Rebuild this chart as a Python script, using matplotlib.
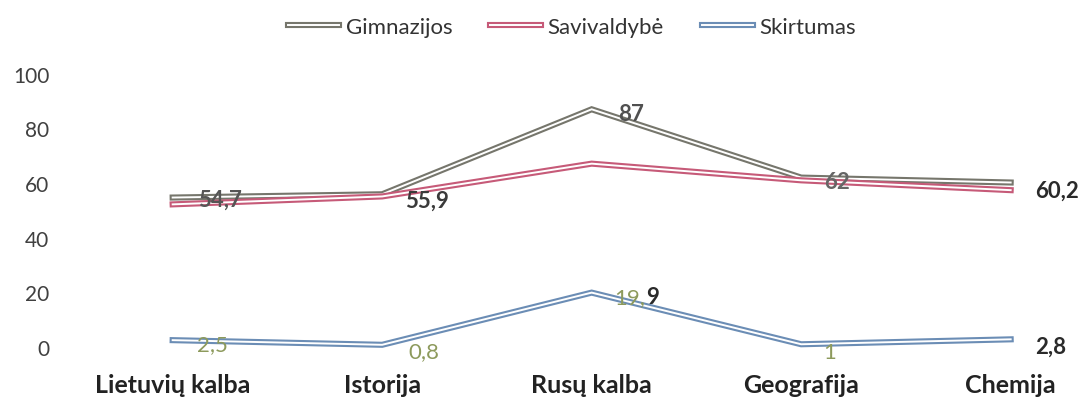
import matplotlib
matplotlib.use("Agg")
import matplotlib.pyplot as plt
import matplotlib.patheffects as pe

categories = ["Lietuvių kalba", "Istorija", "Rusų kalba", "Geografija", "Chemija"]
gimnazijos = [54.7, 55.9, 87, 62, 60.2]
savivaldybe = [52.2, 55.1, 67.1, 61, 57.4]
skirtumas = [2.5, 0.8, 19.9, 1, 2.8]
gim_labels = ["54,7", "55,9", "87", "62", "60,2"]
skirt_labels = ["2,5", "0,8", "19,9", "1", "2,8"]
yticks = [0, 20, 40, 60, 80, 100]

plt.rcParams['font.family'] = ['Lato', 'DejaVu Sans']

fig = plt.figure(figsize=(10.84, 4.02), dpi=100)
ax = fig.add_axes([70/1084, 0.080, 1 - 70/1084, 0.768])

x = list(range(len(categories)))
series = [("Gimnazijos", gimnazijos, "#76766c"),
          ("Savivaldybė", savivaldybe, "#c65a78"),
          ("Skirtumas", skirtumas, "#6b8db5")]
for name, vals, col in series:
    ax.plot(x, vals, color="white", lw=1.4, label=name, solid_joinstyle="miter",
            path_effects=[pe.Stroke(linewidth=4.4, foreground=col), pe.Normal()])

ax.set_xlim(-0.49, 4.35)
ax.set_ylim(-8, 105)
ax.set_yticks(yticks)
ax.set_yticklabels([str(v) for v in yticks], fontsize=15, color="#404040")
ax.set_xticks(x)
ax.set_xticklabels(categories, fontsize=18, fontweight="bold", color="#222222")
ax.tick_params(axis="both", length=0)
ax.tick_params(axis="y", pad=15)
ax.tick_params(axis="x", pad=3)
for s in ax.spines.values():
    s.set_visible(False)

dark = "#3a3a3a"
olive = "#8d9a5c"
gim_off = [(47, -2), (45, -6), (39, -4), (36, -4), (46, -8)]
gim_col = ["#555555", dark, "#505050", "#666666", "#2a2a2a"]
for i, (lab, v) in enumerate(zip(gim_labels, gimnazijos)):
    ax.annotate(lab, (i, v), xytext=gim_off[i], textcoords="offset pixels",
                ha="center", va="center", fontsize=16, color=gim_col[i],
                fontweight="bold")

sk_off = [(40, -4), (42, -6), (48, -4), (28, -8), (40, -7)]
sk_col = [olive, olive, None, olive, "#2a2a2a"]
for i, (lab, v) in enumerate(zip(skirt_labels, skirtumas)):
    if sk_col[i] is None:
        ax.annotate("19,", (i, v), xytext=(sk_off[i][0] + 5, sk_off[i][1]),
                    textcoords="offset pixels", ha="right", va="center",
                    fontsize=16, color=olive)
        ax.annotate("9", (i, v), xytext=(sk_off[i][0] + 6, sk_off[i][1]),
                    textcoords="offset pixels", ha="left", va="center",
                    fontsize=16, color="#2a2a2a", fontweight="bold")
    else:
        ax.annotate(lab, (i, v), xytext=sk_off[i], textcoords="offset pixels",
                    ha="center", va="center", fontsize=16, color=sk_col[i],
                    fontweight="bold" if i == 4 else "normal")

leg = fig.legend(loc="center", bbox_to_anchor=(572/1084, 1 - 28/402), ncol=3,
                 frameon=False, fontsize=16, handlelength=2.3, columnspacing=1.7,
                 handletextpad=0.3)
for t in leg.get_texts():
    t.set_color("#333333")

fig.savefig("out.png", dpi=100)
